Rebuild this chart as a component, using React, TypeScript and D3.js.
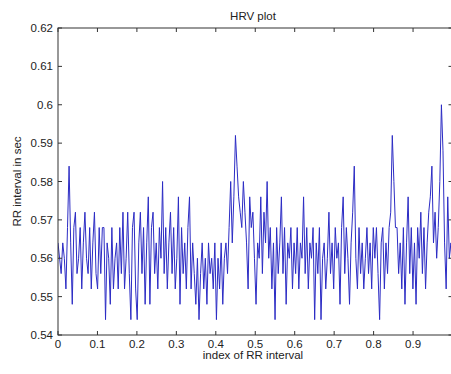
import React from "react";
import * as d3 from "d3";

const title = "HRV plot";
const xLabel = "index of RR interval";
const yLabel = "RR interval in sec";
const xTicks = [0, 0.1, 0.2, 0.3, 0.4, 0.5, 0.6, 0.7, 0.8, 0.9];
const xTickLabels = ["0", "0.1", "0.2", "0.3", "0.4", "0.5", "0.6", "0.7", "0.8", "0.9"];
const yTicks = [0.54, 0.55, 0.56, 0.57, 0.58, 0.59, 0.6, 0.61, 0.62];
const yTickLabels = ["0.54", "0.55", "0.56", "0.57", "0.58", "0.59", "0.6", "0.61", "0.62"];

// RR interval values (seconds)
const rr = [
  0.564, 0.560, 0.556, 0.564, 0.560, 0.552, 0.568, 0.584, 0.564, 0.548,
  0.568, 0.572, 0.556, 0.560, 0.568, 0.552, 0.564, 0.572, 0.560, 0.556,
  0.568, 0.552, 0.564, 0.572, 0.556,
  0.552, 0.568, 0.556, 0.568, 0.568, 0.544, 0.564, 0.560, 0.548, 0.568,
  0.552, 0.560, 0.564, 0.552, 0.568, 0.556, 0.572, 0.552, 0.560, 0.572,
  0.556, 0.544, 0.568, 0.572, 0.552,
  0.544, 0.564, 0.572, 0.556, 0.568, 0.548, 0.564, 0.576, 0.548, 0.568,
  0.572, 0.556, 0.564, 0.552, 0.568, 0.560, 0.580, 0.556, 0.568, 0.552,
  0.564, 0.572, 0.556, 0.568, 0.552,
  0.560, 0.576, 0.548, 0.568, 0.556, 0.564, 0.552, 0.568, 0.576, 0.552,
  0.564, 0.556, 0.548, 0.560, 0.544, 0.556, 0.564, 0.552, 0.560, 0.548,
  0.564, 0.556, 0.560, 0.552, 0.564,
  0.544, 0.560, 0.552, 0.564, 0.548, 0.560, 0.564, 0.556, 0.568, 0.580,
  0.564, 0.576, 0.592, 0.584, 0.576, 0.572, 0.568, 0.580, 0.572, 0.564,
  0.552, 0.576, 0.568, 0.572, 0.560,
  0.548, 0.564, 0.560, 0.576, 0.556, 0.572, 0.564, 0.580, 0.560, 0.568,
  0.552, 0.564, 0.544, 0.568, 0.556, 0.564, 0.576, 0.556, 0.568, 0.548,
  0.564, 0.560, 0.568, 0.552, 0.564,
  0.556, 0.568, 0.552, 0.564, 0.560, 0.576, 0.556, 0.568, 0.552, 0.564,
  0.560, 0.568, 0.544, 0.564, 0.556, 0.568, 0.544, 0.560, 0.564, 0.552,
  0.560, 0.572, 0.556, 0.564, 0.552,
  0.568, 0.560, 0.564, 0.548, 0.568, 0.576, 0.556, 0.568, 0.560, 0.548,
  0.564, 0.572, 0.584, 0.560, 0.552, 0.568, 0.556, 0.564, 0.552, 0.560,
  0.568, 0.556, 0.564, 0.552, 0.568,
  0.560, 0.568, 0.556, 0.544, 0.564, 0.568, 0.552, 0.564, 0.556, 0.568,
  0.572, 0.592, 0.580, 0.568, 0.568, 0.556, 0.564, 0.552, 0.568, 0.548,
  0.564, 0.576, 0.556, 0.568, 0.552,
  0.564, 0.548, 0.568, 0.560, 0.572, 0.556, 0.568, 0.552, 0.564, 0.572,
  0.576, 0.584, 0.564, 0.572, 0.560, 0.568, 0.580, 0.600, 0.588, 0.564,
  0.552, 0.576, 0.560, 0.564, 0.556,
];

const W = 451;
const H = 374;
const left = 58;
const right = 452.5;
const top = 28;
const bottom = 335;

export default function App() {
  const x = d3.scaleLinear().domain([0, 1]).range([left, right]);
  const y = d3.scaleLinear().domain([0.54, 0.62]).range([bottom, top]);
  const n = rr.length;
  const line = d3
    .line<number>()
    .x((_, i) => x(i / (n - 1)))
    .y((d) => y(d));
  const font = "'Liberation Sans', Arial, sans-serif";
  const axisColor = "#333";
  const tickLen = 4;
  return (
    <svg
      width={W}
      height={H}
      style={{ position: "absolute", left: 0, top: 0, background: "#fff" }}
      fontFamily={font}
    >
      <defs>
        <clipPath id="plot">
          <rect x={left} y={top} width={right - left} height={bottom - top} />
        </clipPath>
      </defs>
      <rect x={left} y={top} width={right - left} height={bottom - top} fill="#fff" />
      <path
        d={line(rr) || ""}
        fill="none"
        stroke="#2c2cc4"
        strokeWidth={1}
        clipPath="url(#plot)"
      />
      <rect
        x={left}
        y={top}
        width={right - left}
        height={bottom - top}
        fill="none"
        stroke={axisColor}
        strokeWidth={1}
      />
      {xTicks.map((t, i) => (
        <g key={"x" + i}>
          <line x1={x(t)} x2={x(t)} y1={bottom} y2={bottom - tickLen} stroke={axisColor} />
          <line x1={x(t)} x2={x(t)} y1={top} y2={top + tickLen} stroke={axisColor} />
          <text x={x(t)} y={bottom + 13} textAnchor="middle" fontSize={11.5} fill="#222">
            {xTickLabels[i]}
          </text>
        </g>
      ))}
      {yTicks.map((t, i) => (
        <g key={"y" + i}>
          <line x1={left} x2={left + tickLen} y1={y(t)} y2={y(t)} stroke={axisColor} />
          <line x1={right} x2={right - tickLen} y1={y(t)} y2={y(t)} stroke={axisColor} />
          <text x={left - 5} y={y(t) + 4} textAnchor="end" fontSize={11.5} fill="#222">
            {yTickLabels[i]}
          </text>
        </g>
      ))}
      <text x={253} y={20} textAnchor="middle" fontSize={11.5} fill="#222">
        {title}
      </text>
      <text x={253} y={359} textAnchor="middle" fontSize={11.5} fill="#222">
        {xLabel}
      </text>
      <text
        transform={`translate(21, ${(top + bottom) / 2}) rotate(-90)`}
        textAnchor="middle"
        fontSize={11.5}
        fill="#222"
      >
        {yLabel}
      </text>
    </svg>
  );
}
